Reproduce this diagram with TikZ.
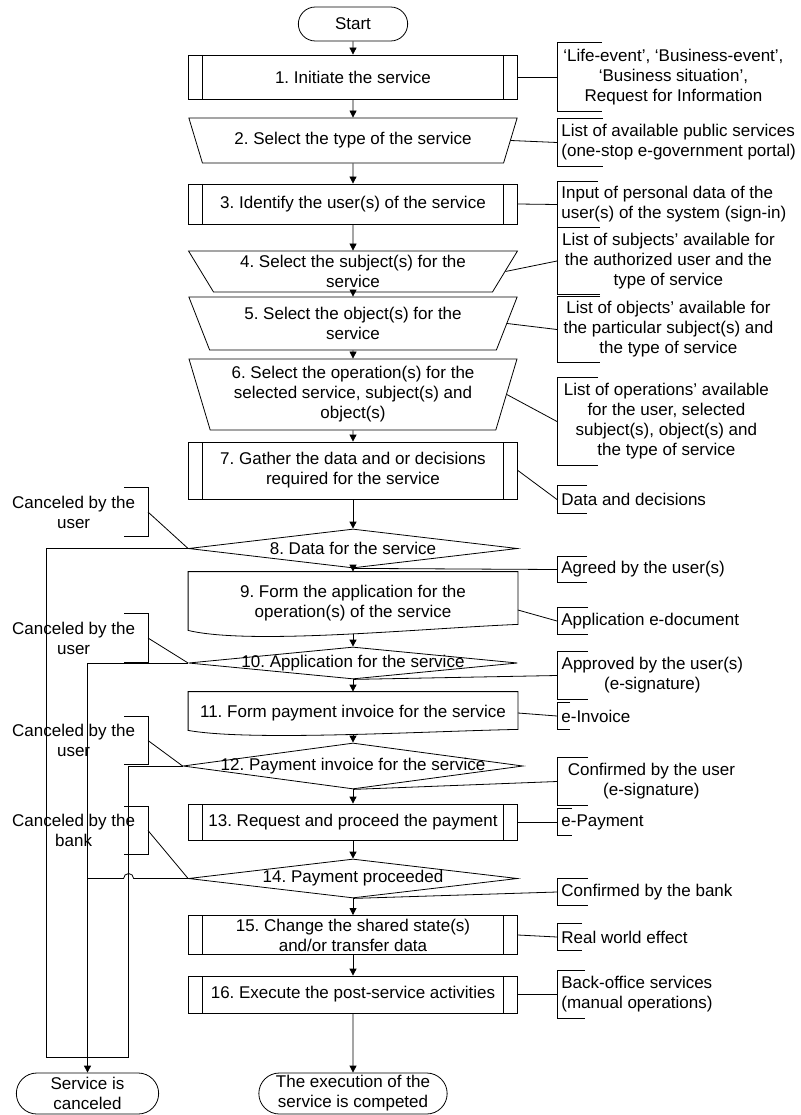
\documentclass[tikz,border=0pt]{standalone}
\usepackage{fontspec}
\setmainfont{Liberation Sans}
\usepackage{tikz}
\usetikzlibrary{positioning,shapes.geometric,shapes.misc,arrows.meta}
\frenchspacing

\begin{document}
\begin{tikzpicture}[%
    x=1pt, y=-1pt,
    >={Triangle[length=7pt,width=7pt]},
    line width=0.8pt,
    font=\fontsize{17pt}{20pt}\selectfont,
    align=center,
    terminal/.style={%
      draw,
      rounded rectangle,
      inner ysep=1pt
    },
    process/.style={%
      draw,
      minimum width=329pt,
      path picture={%
        \draw ([xshift=14pt]path picture bounding box.north west) -- ([xshift=14pt]path picture bounding box.south west)
          ([xshift=-14pt]path picture bounding box.north east) -- ([xshift=-14pt]path picture bounding box.south east);
      }
    },
    manual/.style={%
      draw,
      trapezium,
      trapezium stretches=true,
      shape border rotate=180,
      minimum width=329pt
    },
    decision/.style={%
      draw,
      diamond,
      minimum width=329pt,
      inner sep=0pt
    },
    docbox/.style={%
      minimum width=329pt,
      inner sep=0pt
    },
    notebox/.style={%
      anchor=west,
      inner xsep=4pt,
      inner ysep=0pt,
      align=left
    },
    cnotebox/.style={%
      notebox,
      align=center
    },
    cancelbox/.style={%
      anchor=east,
      minimum width=148pt,
      inner sep=0pt
    }
  ]

    \useasboundingbox (0,0) rectangle (800,1115);

    \node[terminal, minimum width=116pt, minimum height=34pt] (start) at (353,24) {Start};

    \node[process, minimum height=44pt, node distance=53pt] (b1) [below of=start] {1. Initiate the service};

    \node[manual, trapezium angle=64, minimum height=45pt, node distance=63.5pt] (b2) [below of=b1] {2. Select the type of the service};

    \node[process, minimum height=40pt, node distance=63.5pt] (b3) [below of=b2] {3. Identify the user(s) of the service};

    \node[manual, trapezium angle=62, minimum height=41pt, node distance=67.5pt] (b4) [below of=b3] {4. Select the subject(s) for the\\service};

    \node[manual, trapezium angle=67.5, minimum height=53pt, node distance=52pt] (b5) [below of=b4] {5. Select the object(s) for the\\service};

    \node[manual, trapezium angle=73.5, minimum height=71pt, node distance=71pt] (b6) [below of=b5] {6. Select the operation(s) for the\\selected service, subject(s) and\\object(s)};

    \node[process, minimum height=57pt, node distance=76pt] (b7) [below of=b6] {7. Gather the data and or decisions\\required for the service};

    \node[decision, minimum height=39pt, label=center:{8. Data for the service}, node distance=78pt] (d8) [below of=b7] {};

    \node[docbox, minimum height=62pt, node distance=54.5pt] (b9) [below of=d8] {9. Form the application for the\\operation(s) of the service};

    \node[decision, minimum height=32pt, label=center:{10. Application for the service}, node distance=60pt] (d10) [below of=b9] {};

    \node[docbox, minimum height=42pt, node distance=50pt] (b11) [below of=d10] {11. Form payment invoice for the service};

    \node[decision, minimum width=340pt, minimum height=46pt, label=center:{12. Payment invoice for the service}, node distance=53pt] (d12) [below of=b11] {};

    \node[process, minimum height=36pt, node distance=56pt] (b13) [below of=d12] {13. Request and proceed the payment};

    \node[decision, minimum height=39pt, label=center:{14. Payment proceeded}, node distance=56.5pt] (d14) [below of=b13] {};

    \node[process, minimum height=36pt, node distance=56.5pt] (b15) [below of=d14] {15. Change the shared state(s)\\and/or transfer data};

    \node[process, minimum height=37pt, node distance=59.5pt] (b16) [below of=b15] {16. Execute the post-service activities};

    \node[terminal, minimum width=195pt, minimum height=41pt, node distance=99pt] (end) [below of=b16] {The execution of the\\service is competed};

    \node[terminal, minimum width=149pt, minimum height=41pt, node distance=265.5pt] (cancel) [left of=end] {Service is\\canceled};

    \draw (b9.north west) -- (b9.north east) -- ([yshift=10pt]b9.south east) .. controls +(-97,4) and +(62,15) .. ([yshift=4pt]b9.south west) -- cycle;
    \draw (b11.north west) -- (b11.north east) -- ([yshift=5pt]b11.south east) .. controls +(-97,2) and +(62,11) .. ([yshift=4pt]b11.south west) -- cycle;

    \node[cnotebox, minimum width=232pt, minimum height=68pt] (n1) at (557,77) {‘Life-event’, ‘Business-event’,\\‘Business situation’,\\Request for Information};
    \node[notebox, minimum height=47pt] (n2) at (557,142.5) {List of available public services\\(one-stop e-government portal)};
    \node[notebox, minimum height=45pt] (n3) at (557,204.5) {Input of personal data of the\\user(s) of the system (sign-in)};
    \node[cnotebox, minimum width=222pt, minimum height=66pt] (n4) at (557,261) {List of subjects’ available for\\the authorized user and the\\type of service};
    \node[cnotebox, minimum width=222pt, minimum height=65pt] (n5) at (557,329.5) {List of objects’ available for\\the particular subject(s) and\\the type of service};
    \node[cnotebox, minimum width=218pt, minimum height=87pt] (n6) at (557,421.5) {List of operations’ available\\for the user, selected\\subject(s), object(s) and\\the type of service};
    \node[notebox, minimum height=27pt] (n7) at (557,499.5) {Data and decisions};
    \node[notebox, minimum height=25pt] (n8) at (557,569.5) {Agreed by the user(s)};
    \node[notebox, minimum height=26pt] (n9) at (557,621) {Application e-document};
    \node[cnotebox, minimum width=190pt, minimum height=47pt] (n10) at (557,675.5) {Approved by the user(s)\\(e-signature)};
    \node[notebox, minimum height=26pt] (n11) at (557,716) {e-Invoice};
    \node[cnotebox, minimum width=188pt, minimum height=47pt] (n12) at (557,781.5) {Confirmed by the user\\(e-signature)};
    \node[notebox, minimum height=26pt] (n13) at (557,822) {e-Payment};
    \node[notebox, minimum height=26pt] (n14) at (557,892) {Confirmed by the bank};
    \node[notebox, minimum height=26pt] (n15) at (557,937) {Real world effect};
    \node[notebox, minimum height=47pt] (n16) at (557,994.5) {Back-office services\\(manual operations)};

    \node[cancelbox, minimum height=48pt] (c8) at (148,512) {Canceled by the\\user};
    \node[cancelbox, minimum height=48pt] (c10) at (148,638) {Canceled by the\\user};
    \node[cancelbox, minimum height=47pt] (c12) at (148,740.5) {Canceled by the\\user};
    \node[cancelbox, minimum height=47pt] (c14) at (148,830.5) {Canceled by the\\bank};

    \foreach \n/\l in {n1/45, n2/46, n3/41, n4/43, n5/43, n6/41, n7/30, n8/30, n9/31, n10/31, n11/13, n12/31, n13/15, n14/31, n15/25, n16/28}
      \draw ([xshift=\l pt]\n.north west) -- (\n.north west) -- (\n.south west) -- ([xshift=\l pt]\n.south west);

    \foreach \n in {c8, c10, c12, c14}
      \draw ([xshift=-24pt]\n.north east) -- (\n.north east) -- (\n.south east) -- ([xshift=-24pt]\n.south east);

 	  \path[->] (start) edge (b1)
 	  		(b1) edge (b2)
 	  		(b2) edge (b3)
 	  		(b3) edge (b4)
 	  		(b4) edge (b5)
 	  		(b5) edge (b6)
 	  		(b6) edge (b7)
 	  		(b7) edge (d8)
 	  		(d8) edge (b9)
 	  		(b9) edge (d10)
 	  		(d10) edge (b11)
 	  		(b11) edge (d12)
 	  		(d12) edge (b13)
 	  		(b13) edge (d14)
 	  		(d14) edge (b15)
 	  		(b15) edge (b16)
 	  		(b16) edge (end)
 	  ;

    \draw (b1.east) -- (n1.west);
    \draw (b2.east) -- (n2.west);
    \draw (b3.east) -- (n3.west);
    \draw (b4.east) -- (n4.west);
    \draw (b5.east) -- (n5.west);
    \draw (b6.east) -- (n6.west);
    \draw (b7.east) -- (n7.west);
    \draw (d8.south) -- (n8.west);
    \draw ([yshift=-7pt]b9.east) -- (n9.west);
    \draw (d10.south) -- (n10.west);
    \draw (b11.east) -- (n11.west);
    \draw (d12.south) -- (n12.west);
    \draw (b13.east) -- (n13.west);
    \draw (d14.south) -- (n14.west);
    \draw (b15.east) -- (n15.west);
    \draw (b16.east) -- (n16.west);

    \draw (c8.east) -- (d8.west);
    \draw (c10.east) -- (d10.west);
    \draw (c12.east) -- (d12.west);
    \draw (c14.east) -- (d14.west);

    \coordinate (jn) at ([yshift=15pt]cancel.north);
    \draw (d8.west) -- ++(-142,0) |- (jn);
    \draw (d12.west) -- ++(-54,0) |- (jn);
    \draw[->] (d10.west) -| (cancel.north);
    \draw (d14.west) -- ++(-54.5,0) arc[start angle=0, end angle=180, radius=5pt] -- (cancel.north |- d14.west);

  \end{tikzpicture}
\end{document}
